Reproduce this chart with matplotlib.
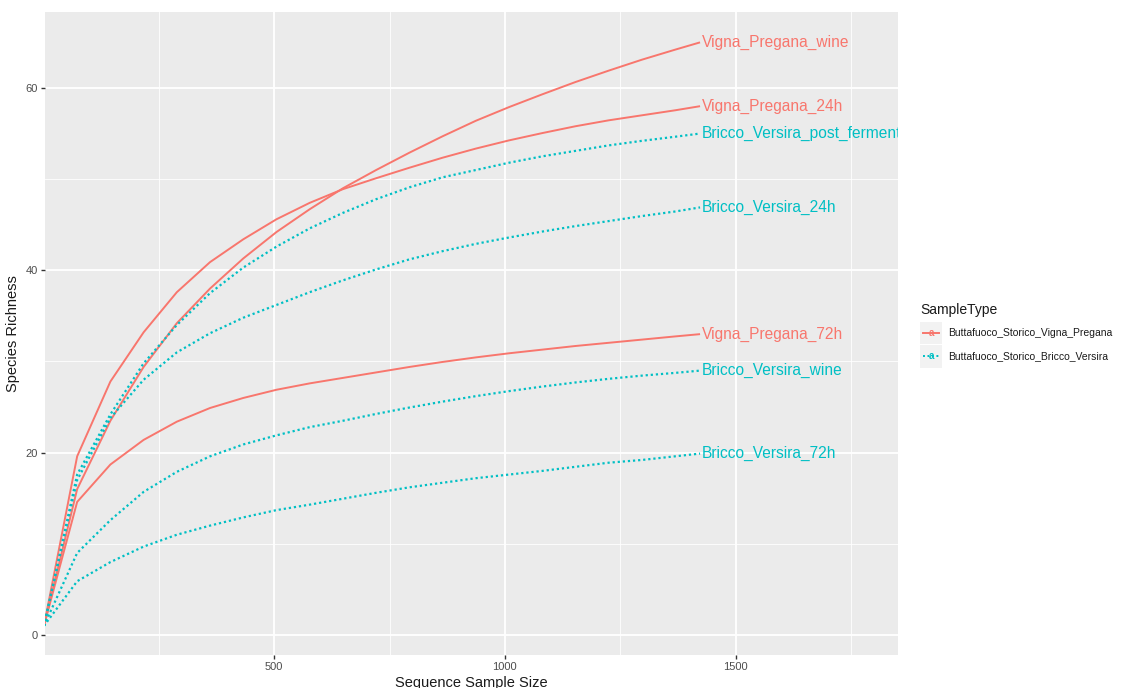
import matplotlib
matplotlib.use("Agg")
import matplotlib.pyplot as plt
from matplotlib.lines import Line2D
from matplotlib.patches import Rectangle

plt.rcParams['font.family'] = ['Liberation Sans', 'DejaVu Sans']

# ---------------- data ----------------
sample_sizes = [1, 73, 145, 217, 289, 361, 433, 505, 577, 649, 721, 793,
                865, 937, 1009, 1081, 1153, 1225, 1297, 1369, 1423]

vigna_pregana_wine = [1, 16.0, 23.5, 29.4, 34.2, 38.0, 41.3, 44.2, 46.7, 49.0, 51.0,
                      52.9, 54.7, 56.4, 57.9, 59.3, 60.65, 61.9, 63.1, 64.2, 65.0]
vigna_pregana_24h = [1, 19.6, 27.8, 33.2, 37.6, 40.9, 43.4, 45.6, 47.4, 48.9, 50.1,
                     51.25, 52.35, 53.35, 54.25, 55.05, 55.8, 56.45, 57.0, 57.55, 58.0]
vigna_pregana_72h = [1, 14.6, 18.7, 21.4, 23.4, 24.9, 26.0, 26.9, 27.6, 28.2, 28.8,
                     29.4, 29.95, 30.45, 30.9, 31.3, 31.7, 32.05, 32.4, 32.75, 33.0]
bricco_versira_post = [1, 17.6, 24.2, 29.8, 34.0, 37.5, 40.3, 42.6, 44.6, 46.3, 47.8,
                       49.1, 50.2, 51.0, 51.8, 52.5, 53.1, 53.7, 54.2, 54.65, 55.0]
bricco_versira_24h = [1, 17.0, 23.8, 28.0, 31.0, 33.1, 34.8, 36.2, 37.6, 38.9, 40.1,
                      41.2, 42.1, 42.9, 43.6, 44.25, 44.85, 45.4, 45.95, 46.45, 46.9]
bricco_versira_wine = [1, 9.0, 12.6, 15.7, 17.9, 19.6, 20.9, 21.9, 22.8, 23.5, 24.25,
                       24.95, 25.6, 26.2, 26.75, 27.25, 27.7, 28.1, 28.45, 28.75, 29.0]
bricco_versira_72h = [1, 5.9, 8.0, 9.7, 11.0, 12.0, 12.9, 13.7, 14.3, 14.95, 15.6,
                      16.2, 16.7, 17.2, 17.6, 18.0, 18.45, 18.9, 19.2, 19.6, 19.9]

sample_labels = ["Vigna_Pregana_wine", "Vigna_Pregana_24h", "Vigna_Pregana_72h",
                 "Bricco_Versira_post_fermentation", "Bricco_Versira_24h",
                 "Bricco_Versira_wine", "Bricco_Versira_72h"]
sample_values = [vigna_pregana_wine, vigna_pregana_24h, vigna_pregana_72h,
                 bricco_versira_post, bricco_versira_24h, bricco_versira_wine,
                 bricco_versira_72h]
sample_groups = [0, 0, 0, 1, 1, 1, 1]
group_names = ["Buttafuoco_Storico_Vigna_Pregana", "Buttafuoco_Storico_Bricco_Versira"]

x_ticks = [500, 1000, 1500]
y_ticks = [0, 20, 40, 60]

# ---------------- style ----------------
group_colors = ["#F8766D", "#00BFC4"]
group_styles = ["-", (0, (1.0, 1.3))]

W, H = 1145, 688
fig = plt.figure(figsize=(W / 100, H / 100), dpi=100)
ax = fig.add_axes([45 / W, 1 - 655 / H, (898 - 45) / W, (655 - 12) / H])
ax.set_facecolor("#EBEBEB")
for s in ax.spines.values():
    s.set_visible(False)

ax.set_xlim(3.3, 1852)
ax.set_ylim(-2.19, 68.33)
ax.set_xticks(x_ticks)
ax.set_xticks([250, 750, 1250, 1750], minor=True)
ax.set_yticks(y_ticks)
ax.set_yticks([10, 30, 50], minor=True)
ax.grid(which="major", color="white", lw=1.3)
ax.grid(which="minor", color="white", lw=0.6)
ax.set_axisbelow(True)
ax.tick_params(which="major", length=3, width=1, color="#333333",
               labelcolor="#4D4D4D", labelsize=8, pad=2)
ax.tick_params(which="minor", length=0)

for lab, vals, g in zip(sample_labels, sample_values, sample_groups):
    ax.plot(sample_sizes, vals, color=group_colors[g], linestyle=group_styles[g],
            lw=1.4 if g == 0 else 1.6, solid_capstyle="butt", solid_joinstyle="round")
    ax.text(sample_sizes[-1] + 4, vals[-1], lab, color=group_colors[g], fontsize=11.2,
            ha="left", va="center", clip_on=True)

ax.set_xlabel("Sequence Sample Size", fontsize=10.5, color="#1A1A1A", labelpad=3)
ax.set_ylabel("Species Richness", fontsize=10.5, color="#1A1A1A", labelpad=4)

# ---------------- legend (manual, ggplot-like) ----------------
fig.text(920 / W, 1 - 310 / H, "SampleType", fontsize=10, color="#1A1A1A",
         ha="left", va="center")
row_y = [333, 356]
for i, name in enumerate(group_names):
    yc = row_y[i]
    fig.patches.append(Rectangle((920 / W, 1 - (yc + 11.5) / H), 22 / W, 23 / H,
                                 transform=fig.transFigure, facecolor="#F2F2F2",
                                 edgecolor="none"))
    fig.lines.append(Line2D([923 / W, 939 / W], [1 - yc / H, 1 - yc / H],
                            transform=fig.transFigure, color=group_colors[i],
                            linestyle=group_styles[i], lw=1.4))
    fig.text(931 / W, 1 - yc / H, "a", fontsize=7, color=group_colors[i],
             ha="center", va="center", fontweight="bold")
    fig.text(948 / W, 1 - yc / H, name, fontsize=7.5, color="#1A1A1A",
             ha="left", va="center")

fig.savefig("out.png", dpi=100)
